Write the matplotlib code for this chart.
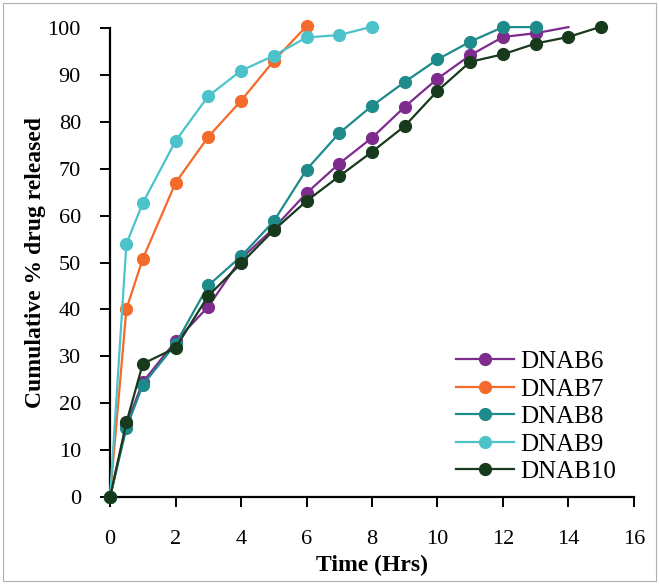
import matplotlib
matplotlib.use("Agg")
import matplotlib.pyplot as plt
from matplotlib.patches import Rectangle

# Release profiles (cumulative % drug released vs time in hours)
t_6 = [0, 0.5, 1, 2, 3, 4, 5, 6, 7, 8, 9, 10, 11, 12, 13, 14]
dnab6 = [0, 15.5, 24.5, 33.2, 40.6, 50.8, 57.3, 64.8, 71.1, 76.6, 83.2, 89.2, 94.2, 98.1, 98.9, 100.2]

t_7 = [0, 0.5, 1, 2, 3, 4, 5, 6]
dnab7 = [0, 40.1, 50.8, 67.0, 76.8, 84.5, 93.0, 100.4]

t_8 = [0, 0.5, 1, 2, 3, 4, 5, 6, 7, 8, 9, 10, 11, 12, 13]
dnab8 = [0, 14.7, 23.9, 32.6, 45.1, 51.3, 58.8, 69.8, 77.6, 83.4, 88.5, 93.3, 97.1, 100.2, 100.2]

t_9 = [0, 0.5, 1, 2, 3, 4, 5, 6, 7, 8]
dnab9 = [0, 54.0, 62.7, 75.9, 85.5, 90.9, 94.1, 98.0, 98.5, 100.3]

t_10 = [0, 0.5, 1, 2, 3, 4, 5, 6, 7, 8, 9, 10, 11, 12, 13, 14, 15]
dnab10 = [0, 15.9, 28.4, 31.8, 42.9, 49.8, 56.9, 63.1, 68.4, 73.6, 79.1, 86.6, 92.8, 94.4, 96.7, 98.1, 100.3]

series = [
    ("DNAB6", t_6, dnab6, "#7e2b8e"),
    ("DNAB7", t_7, dnab7, "#f36a2b"),
    ("DNAB8", t_8, dnab8, "#1e8a8a"),
    ("DNAB9", t_9, dnab9, "#4cc3cb"),
    ("DNAB10", t_10, dnab10, "#173a1c"),
]

plt.rcParams["font.family"] = ["Liberation Serif", "DejaVu Serif"]

fig = plt.figure(figsize=(6.59, 5.84), dpi=100)
ax = fig.add_axes([0.167, 0.149, 0.795, 0.803])

for name, t, y, color in series:
    # DNAB6 has no marker on its final point
    mk = list(range(len(t) - 1)) if name == "DNAB6" else None
    ax.plot(t, y, color=color, lw=1.6, marker="o", ms=8.5,
            markevery=mk, label=name, clip_on=False, zorder=3)

ax.set_xlim(0, 16)
ax.set_ylim(0, 100)
ax.set_xticks(range(0, 17, 2))
ax.set_yticks(range(0, 101, 10))
ax.spines["top"].set_visible(False)
ax.spines["right"].set_visible(False)
ax.spines["left"].set_linewidth(1.6)
ax.spines["bottom"].set_linewidth(1.6)
ax.tick_params(direction="out", length=7, width=1.4, labelsize=16)
ax.tick_params(axis="x", pad=17)
ax.tick_params(axis="y", pad=14)

ax.set_xlabel("Time (Hrs)", fontsize=17, fontweight="bold", labelpad=4)
ax.set_ylabel("Cumulative % drug released", fontsize=17, fontweight="bold", labelpad=1)

ax.legend(loc="lower right", bbox_to_anchor=(0.985, 0.008), frameon=False,
          fontsize=18, handlelength=2.3, handletextpad=0.25,
          labelspacing=0.2, borderaxespad=0.0)

# thin grey border round the whole figure
fig.patches.append(Rectangle((0.004, 0.005), 0.992, 0.99, transform=fig.transFigure,
                             fill=False, edgecolor="#b0b0b0", lw=0.8))

fig.savefig("out.png", dpi=100)
